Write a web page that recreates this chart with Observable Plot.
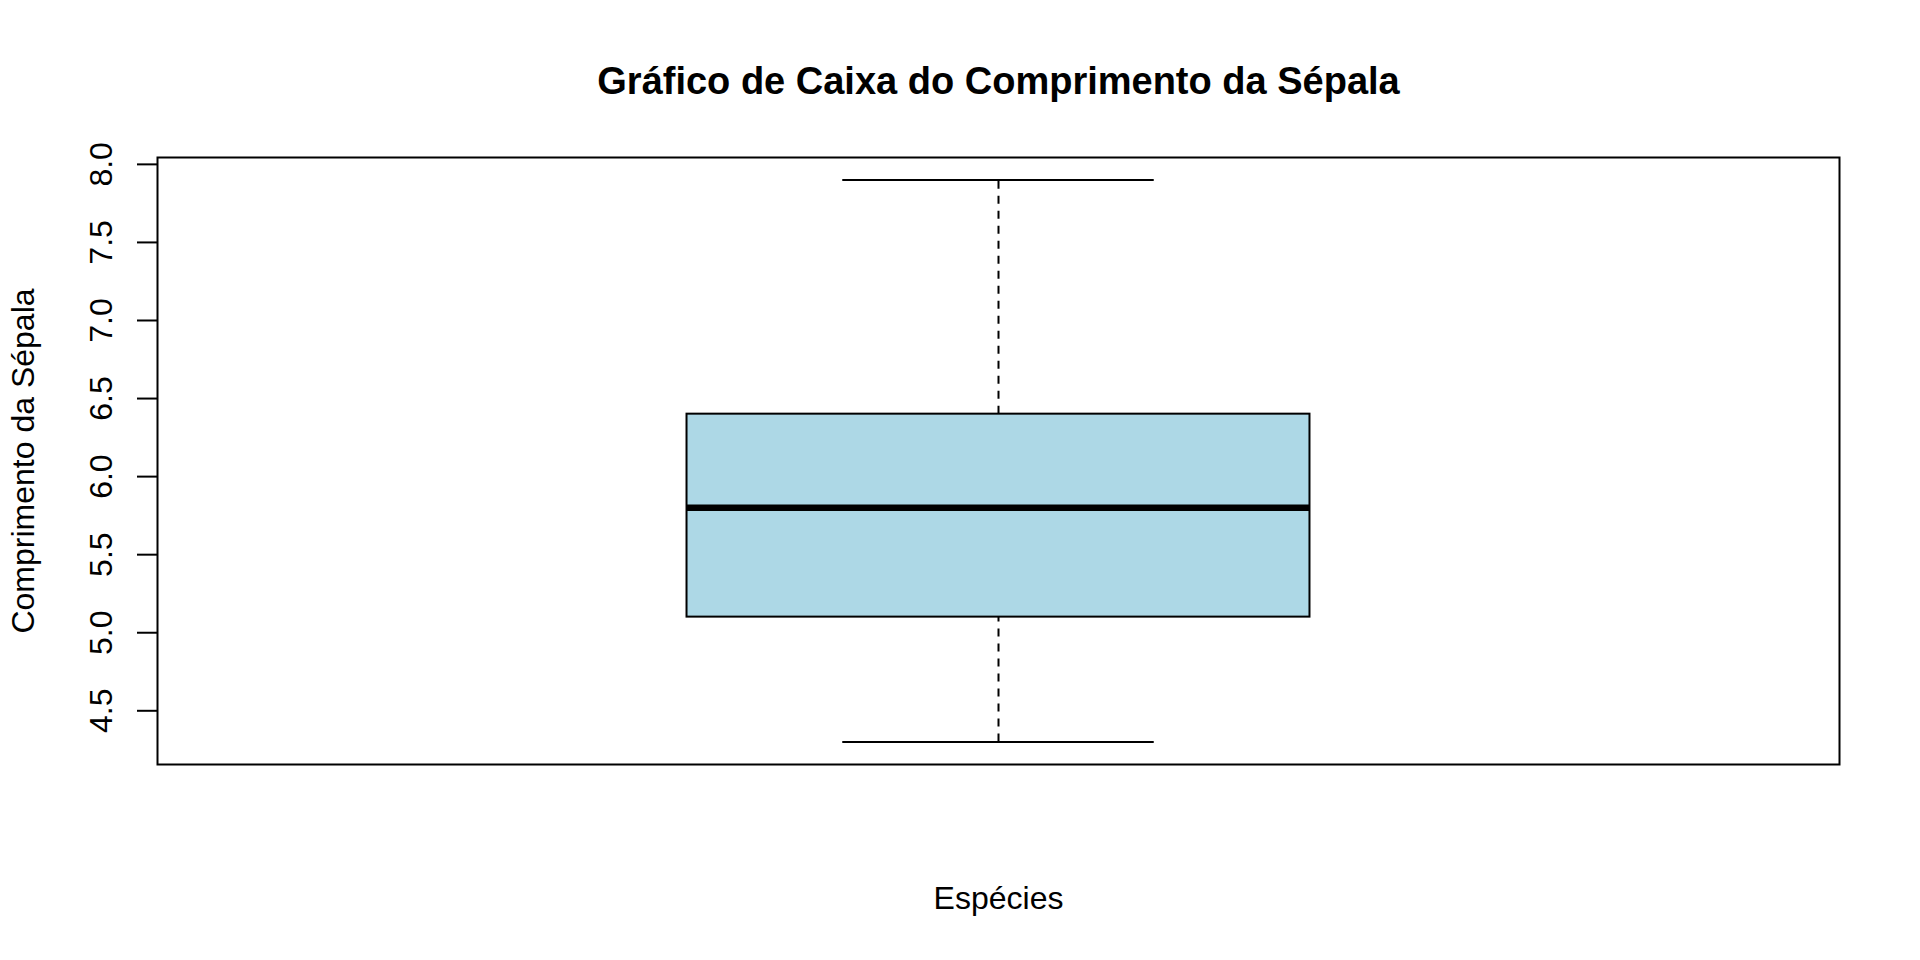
<!DOCTYPE html>
<html>
<head>
<meta charset="utf-8">
<script src="https://cdn.jsdelivr.net/npm/d3@7"></script>
<script src="https://cdn.jsdelivr.net/npm/@observablehq/plot@0.6"></script>
<style>
  html, body { margin: 0; padding: 0; background: white; }
  #chart svg { display: block; }
</style>
</head>
<body>
<div id="chart"></div>
<script>
// Data (iris sepal length boxplot)
const groups = ["Comprimento da Sépala"];
const mins = [4.3];
const q1s = [5.1];
const medians = [5.8];
const q3s = [6.4];
const maxs = [7.9];
const yTicks = [4.5, 5.0, 5.5, 6.0, 6.5, 7.0, 7.5, 8.0];
const titleText = "Gráfico de Caixa do Comprimento da Sépala";
const xLabel = "Espécies";
const yLabel = "Comprimento da Sépala";

const rows = groups.map((g, i) => ({
  group: g, pos: i + 1,
  min: mins[i], q1: q1s[i], median: medians[i], q3: q3s[i], max: maxs[i]
}));

const boxHalf = 0.2, capHalf = 0.1;
const dash = "8,7";

const chart = Plot.plot({
  width: 1920,
  height: 960,
  marginLeft: 157,
  marginRight: 81,
  marginTop: 157,
  marginBottom: 196,
  style: { fontFamily: "'Liberation Sans', Arial, Helvetica, sans-serif", fontSize: "32px", color: "black", background: "white" },
  x: { type: "linear", domain: [0.46, 1.54], axis: null },
  y: { type: "linear", domain: [4.156, 8.044] },
  marks: [
    Plot.frame({ stroke: "black", strokeWidth: 2 }),
    Plot.axisY({
      ticks: yTicks, tickSize: 20, tickPadding: 26, tickRotate: -90,
      tickFormat: d3.format(".1f"), strokeWidth: 2, label: null, fontSize: 32
    }),
    // whiskers
    Plot.ruleX(rows, { x: "pos", y1: "q3", y2: "max", stroke: "black", strokeWidth: 2, strokeDasharray: dash }),
    Plot.ruleX(rows, { x: "pos", y1: "min", y2: "q1", stroke: "black", strokeWidth: 2, strokeDasharray: dash }),
    // caps
    Plot.ruleY(rows, { y: "max", x1: d => d.pos - capHalf, x2: d => d.pos + capHalf, stroke: "black", strokeWidth: 2 }),
    Plot.ruleY(rows, { y: "min", x1: d => d.pos - capHalf, x2: d => d.pos + capHalf, stroke: "black", strokeWidth: 2 }),
    // box
    Plot.rect(rows, { x1: d => d.pos - boxHalf, x2: d => d.pos + boxHalf, y1: "q1", y2: "q3", fill: "#add8e6", stroke: "black", strokeWidth: 2 }),
    // median
    Plot.ruleY(rows, { y: "median", x1: d => d.pos - boxHalf, x2: d => d.pos + boxHalf, stroke: "black", strokeWidth: 6.5 }),
    // title
    Plot.text([titleText], { text: d => d, frameAnchor: "top", dy: -64, lineAnchor: "bottom", fontWeight: "bold", fontSize: 38, fill: "black" }),
    // x label
    Plot.text([xLabel], { text: d => d, frameAnchor: "bottom", dy: 144, lineAnchor: "bottom", fontSize: 32, fill: "black" }),
    // y label
    Plot.text([yLabel], { text: d => d, frameAnchor: "left", dx: -124, rotate: -90, textAnchor: "middle", lineAnchor: "bottom", fontSize: 32, fill: "black" })
  ]
});
document.getElementById("chart").appendChild(chart);
</script>
</body>
</html>
